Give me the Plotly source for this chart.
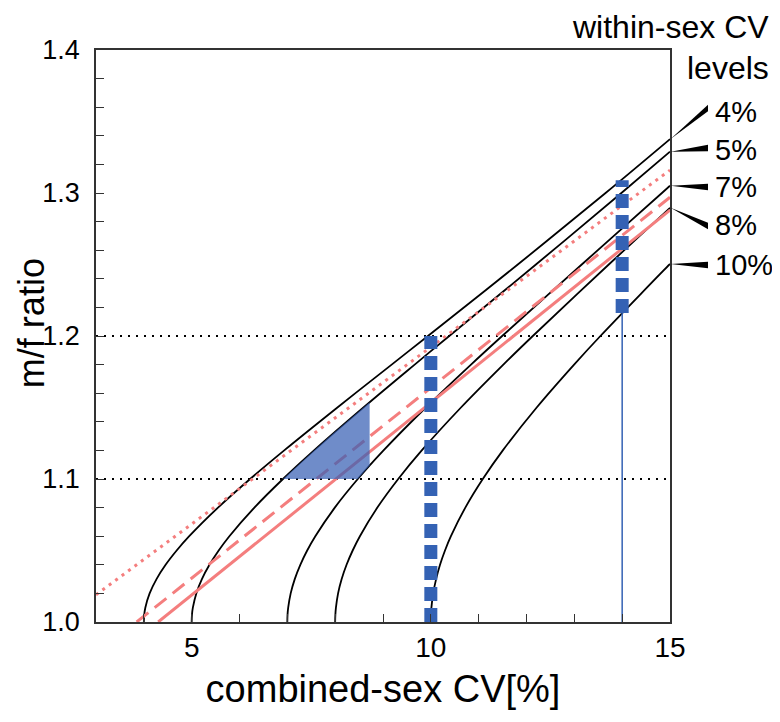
import plotly.graph_objects as go

# ---------------- data ----------------
cv_levels = ["4%", "5%", "7%", "8%", "10%"]

cv4_x = [4.0, 4.008, 4.031, 4.121, 4.265, 4.455, 4.686, 4.949, 5.551, 6.222, 6.935, 8.047, 9.181, 9.939, 11.818, 13.653, 15.0]
cv4_y = [1.0, 1.005, 1.01, 1.02, 1.03, 1.04, 1.05, 1.06, 1.08, 1.10, 1.12, 1.15, 1.18, 1.20, 1.25, 1.30, 1.3377]

cv5_x = [5.0, 5.006, 5.025, 5.097, 5.214, 5.372, 5.565, 5.788, 6.311, 6.909, 7.558, 8.591, 9.662, 10.385, 12.197, 13.984, 15.0]
cv5_y = [1.0, 1.005, 1.01, 1.02, 1.03, 1.04, 1.05, 1.06, 1.08, 1.10, 1.12, 1.15, 1.18, 1.20, 1.25, 1.30, 1.3289]

cv7_x = [7.0, 7.004, 7.018, 7.070, 7.155, 7.271, 7.415, 7.585, 7.992, 8.473, 9.011, 9.895, 10.84, 11.491, 13.155, 14.831, 15.0]
cv7_y = [1.0, 1.005, 1.01, 1.02, 1.03, 1.04, 1.05, 1.06, 1.08, 1.10, 1.12, 1.15, 1.18, 1.20, 1.25, 1.30, 1.3051]

cv8_x = [8.0, 8.004, 8.016, 8.061, 8.136, 8.238, 8.366, 8.517, 8.882, 9.318, 9.81, 10.63, 11.516, 12.132, 13.72, 15.0]
cv8_y = [1.0, 1.005, 1.01, 1.02, 1.03, 1.04, 1.05, 1.06, 1.08, 1.10, 1.12, 1.15, 1.18, 1.20, 1.25, 1.2896]

cv10_x = [10.0, 10.003, 10.012, 10.049, 10.11, 10.192, 10.296, 10.42, 10.721, 11.086, 11.505, 12.213, 12.995, 13.545, 14.99, 15.0]
cv10_y = [1.0, 1.005, 1.01, 1.02, 1.03, 1.04, 1.05, 1.06, 1.08, 1.10, 1.12, 1.15, 1.18, 1.20, 1.25, 1.2503]

# pink reference lines (endpoints)
solid_x = [4.30, 15.0]
solid_y = [1.0, 1.288]
dashed_x = [3.85, 15.0]
dashed_y = [1.0, 1.297]
dotted_x = [3.0, 15.0]
dotted_y = [1.019, 1.316]

# shaded region between 5% and 7% curves
shade_x = [6.909, 7.228, 7.558, 7.896, 8.24, 8.72, 8.72, 8.603, 8.473, 6.909]
shade_y = [1.10, 1.11, 1.12, 1.13, 1.14, 1.1537, 1.1094, 1.105, 1.10, 1.10]

# horizontal reference levels
ref_levels = [1.1, 1.2]

# blue vertical markers
blue10_x = [10, 10]
blue10_y = [1.0, 1.2]
blue14_dot_x = [14, 14]
blue14_dot_y = [1.216, 1.309]
blue14_thin_x = [14, 14]
blue14_thin_y = [1.0, 1.216]

x_ticks = [5, 10, 15]
y_ticks = [1.0, 1.1, 1.2, 1.3, 1.4]
y_tick_text = ["1.0", "1.1", "1.2", "1.3", "1.4"]

# label positions (paper coords) for the CV-level labels
label_y = [0.8916, 0.8252, 0.7605, 0.6941, 0.6241]
wedge_base_y = [0.8986, 0.8287, 0.7605, 0.6923, 0.6241]

# ---------------- figure ----------------
FONT = "Liberation Sans, Arial, sans-serif"
PINK = "#f47e7e"
BLUE = "#3462b4"

fig = go.Figure()

for lv in ref_levels:
    fig.add_trace(go.Scatter(x=[3, 15], y=[lv, lv], mode="lines",
                             line=dict(color="black", width=2, dash="2px,6px"),
                             hoverinfo="skip", showlegend=False))

curves = [(cv4_x, cv4_y), (cv5_x, cv5_y), (cv7_x, cv7_y), (cv8_x, cv8_y), (cv10_x, cv10_y)]
for (cx, cy), name in zip(curves, cv_levels):
    fig.add_trace(go.Scatter(x=cx, y=cy, mode="lines", name=name,
                             line=dict(color="black", width=1.8, shape="spline"),
                             showlegend=False))

fig.add_trace(go.Scatter(x=dotted_x, y=dotted_y, mode="lines",
                         line=dict(color=PINK, width=3, dash="3px,5px"), showlegend=False))
fig.add_trace(go.Scatter(x=dashed_x, y=dashed_y, mode="lines",
                         line=dict(color=PINK, width=3, dash="15px,8px"), showlegend=False))
fig.add_trace(go.Scatter(x=solid_x, y=solid_y, mode="lines",
                         line=dict(color=PINK, width=3), showlegend=False))

fig.add_trace(go.Scatter(x=shade_x, y=shade_y, mode="lines", fill="toself",
                         fillcolor="rgba(55,95,180,0.72)", line=dict(width=0),
                         showlegend=False))

fig.add_trace(go.Scatter(x=blue10_x, y=blue10_y, mode="lines",
                         line=dict(color=BLUE, width=13, dash="14px,7px"), showlegend=False))
fig.add_trace(go.Scatter(x=blue14_thin_x, y=blue14_thin_y, mode="lines",
                         line=dict(color=BLUE, width=1.5), showlegend=False))
fig.add_trace(go.Scatter(x=blue14_dot_x, y=blue14_dot_y, mode="lines",
                         line=dict(color=BLUE, width=13, dash="14px,7px"), showlegend=False))

# wedge pointers + labels
tip_x = 1.001
base_x = 1.0662
half = 3.2 / 572
end_y = [cv4_y[-1], cv5_y[-1], cv7_y[-1], cv8_y[-1], cv10_y[-1]]
for name, ey, by, ly in zip(cv_levels, end_y, wedge_base_y, label_y):
    ty = (ey - 1.0) / 0.4
    fig.add_shape(type="path", xref="paper", yref="paper",
                  path=f"M {tip_x} {ty} L {base_x} {by + half} L {base_x} {by - half} Z",
                  fillcolor="black", line=dict(width=0))
    fig.add_annotation(x=1.075, y=ly, xref="paper", yref="paper", text=name,
                       showarrow=False, xanchor="left", yanchor="middle",
                       font=dict(size=29, color="black", family=FONT))

fig.add_annotation(x=1.176, y=1.0402, xref="paper", yref="paper", text="within-sex CV",
                   showarrow=False, xanchor="right", yanchor="middle",
                   font=dict(size=32, color="black", family=FONT))
fig.add_annotation(x=1.176, y=0.968, xref="paper", yref="paper", text="levels",
                   showarrow=False, xanchor="right", yanchor="middle",
                   font=dict(size=32, color="black", family=FONT))

# y-axis title (placed slightly above centre as in the reference)
fig.add_annotation(x=-0.112, y=0.522, xref="paper", yref="paper", text="m/f ratio",
                   showarrow=False, textangle=-90, xanchor="center", yanchor="middle",
                   font=dict(size=36, color="black", family=FONT))

fig.update_xaxes(range=[3, 15], tickvals=x_ticks, ticks="inside", ticklen=8,
                 tickcolor="#333", showline=True, mirror=True, linecolor="#333",
                 linewidth=1.5, showgrid=False, zeroline=False,
                 tickfont=dict(size=28, color="black", family=FONT),
                 minor=dict(dtick=1, tick0=0, ticks="inside", ticklen=8, tickcolor="#333"),
                 title=dict(text="combined-sex CV[%]", standoff=13,
                            font=dict(size=38, color="black", family=FONT)))
fig.update_yaxes(range=[1.0, 1.4], tickvals=y_ticks, ticktext=y_tick_text,
                 ticks="inside", ticklen=8, tickcolor="#333", ticklabelstandoff=9,
                 showline=True, mirror=True, linecolor="#333", linewidth=1.5,
                 showgrid=False, zeroline=False,
                 tickfont=dict(size=27, color="black", family=FONT),
                 minor=dict(dtick=0.02, tick0=1.0, ticks="inside", ticklen=8, tickcolor="#333"))

fig.update_layout(width=772, height=714, margin=dict(l=88, r=110, t=42, b=100),
                  plot_bgcolor="white", paper_bgcolor="white", showlegend=False,
                  font=dict(family=FONT, color="black"))

fig.write_html("out.html")
